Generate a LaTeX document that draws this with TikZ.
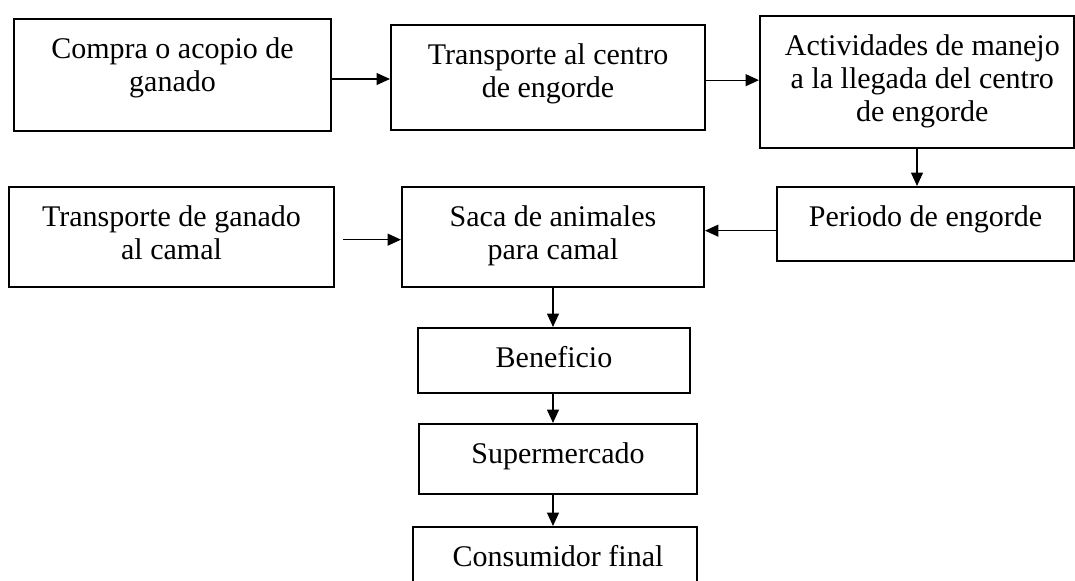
\documentclass[tikz,border=0pt]{standalone}
\usepackage{fontspec}
\setmainfont{Liberation Serif}
\usetikzlibrary{fit,arrows.meta}
\begin{document}
\begin{tikzpicture}[x=0.75pt,y=-0.75pt,
  box/.style={draw=black,line width=1.6pt,inner sep=0pt,rectangle},
  txt/.style={align=center,inner sep=0pt,font=\fontsize{22.5}{24.75}\selectfont,anchor=north},
  arr/.style={draw=black,line width=0.8pt,-{Triangle[length=10pt,width=9pt]}}]
\useasboundingbox (0,0) rectangle (1075,581);
\fill[white] (0,0) rectangle (1075,581);
\clip (0,0) rectangle (1075,581);
% boxes
\node[box,fit={(14,19) (331,131)}] (b1) {};
\node[box,fit={(391,25) (705,130)}] (b2) {};
\node[box,fit={(760,16) (1074,148)}] (b3) {};
\node[box,fit={(777,187) (1074,261)}] (b4) {};
\node[box,fit={(402,187) (704,287)}] (b5) {};
\node[box,fit={(9,187) (334,287)}] (b6) {};
\node[box,fit={(418,328) (690,393)}] (b7) {};
\node[box,fit={(419,424) (697,494)}] (b8) {};
\node[box,fit={(413,527) (697,610)}] (b9) {};
% texts
\node[txt] (t1) at ([yshift=-14.5pt]b1.north) {Compra o acopio de\\ganado};
\node[txt] (t2) at ([yshift=-14.5pt]b2.north) {Transporte al centro\\de engorde};
\node[txt] (t3) at ([xshift=4pt,yshift=-14.5pt]b3.north) {Actividades de manejo\\a la llegada del centro\\de engorde};
\node[txt] (t4) at ([yshift=-14.5pt]b4.north) {Periodo de engorde};
\node[txt] (t5) at ([yshift=-14.5pt]b5.north) {Saca de animales\\para camal};
\node[txt] (t6) at ([yshift=-14.5pt]b6.north) {Transporte de ganado\\al camal};
\node[txt] (t7) at ([yshift=-14.5pt]b7.north) {Beneficio};
\node[txt] (t8) at ([yshift=-14.5pt]b8.north) {Supermercado};
\node[txt] (t9) at ([yshift=-14.5pt]b9.north -| b8.north) {Consumidor final};
% connectors
\draw[arr] ([yshift=-3pt]b1.east) -- ([yshift=-3pt]b1.east -| b2.west);
\draw[arr] ([yshift=-2pt]b2.east) -- ([yshift=-2pt]b2.east -| b3.west);
\draw[arr] (b3.south) -- (b3.south |- b4.north);
\draw[arr] ([yshift=-5pt]b4.west) -- ([yshift=-5pt]b4.west -| b5.east);
\draw[arr] ([xshift=6pt,yshift=-2pt]b6.east) -- ([yshift=-2pt]b6.east -| b5.west);
\draw[arr] (b5.south) -- (b5.south |- b7.north);
\draw[arr] (b5.south |- b7.south) -- (b5.south |- b8.north);
\draw[arr] (b5.south |- b8.south) -- (b5.south |- b9.north);
\end{tikzpicture}
\end{document}
